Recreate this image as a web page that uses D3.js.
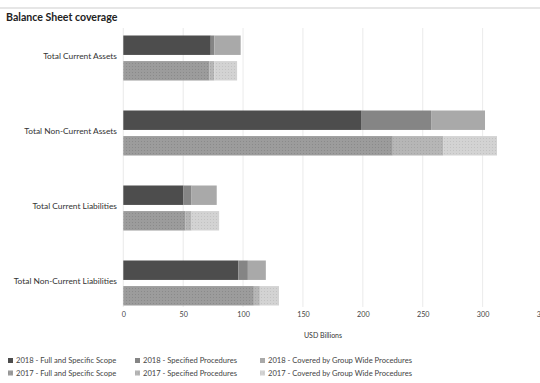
<!DOCTYPE html>
<html>
<head>
<meta charset="utf-8">
<script src="https://cdn.jsdelivr.net/npm/d3@7"></script>
<style>
  body { margin: 0; background: #fff; }
  svg { display: block; font-family: Lato, "Open Sans", sans-serif; }
</style>
</head>
<body>
<svg id="chart" width="540" height="383"></svg>
<script>
// data (USD billions)
const categories = ["Total Current Assets", "Total Non-Current Assets", "Total Current Liabilities", "Total Non-Current Liabilities"];
const years = ["2018", "2017"];
const parts = ["Full and Specific Scope", "Specified Procedures", "Covered by Group Wide Procedures"];

const full2018 = [73, 199, 50, 96];
const spec2018 = [3, 58, 7, 8];
const group2018 = [22, 45, 21, 15];
const full2017 = [72, 225, 52, 109];
const spec2017 = [4, 42, 5, 5];
const group2017 = [19, 45, 23, 16];

const xTicks = [0, 50, 100, 150, 200, 250, 300, 350];

const series = {
    "2018": [full2018, spec2018, group2018],
    "2017": [full2017, spec2017, group2017]
};

const fills = {
    "2018": ["#4d4d4d", "#858585", "#a9a9a9"],
    "2017": ["url(#dot0)", "url(#dot1)", "url(#dot2)"]
};
const dotBase = ["#9c9c9c", "#b6b6b6", "#d3d3d3"];
const dotInk = ["#8a8a8a", "#a6a6a6", "#c2c2c2"];

const svg = d3.select("#chart");

// dotted patterns for the 2017 bars
const defs = svg.append("defs");
dotBase.forEach((c, i) => {
    const p = defs.append("pattern")
        .attr("id", "dot" + i)
        .attr("width", 3).attr("height", 3)
        .attr("patternUnits", "userSpaceOnUse");
    p.append("rect").attr("width", 3).attr("height", 3).attr("fill", c);
    p.append("rect").attr("width", 1).attr("height", 1).attr("fill", dotInk[i]);
})

// top rule + title
svg.append("line")
    .attr("x1", 0).attr("x2", 540)
    .attr("y1", 8).attr("y2", 8)
    .attr("stroke", "#dedede").attr("stroke-width", 1.5);
svg.append("text")
    .attr("x", 6).attr("y", 20.5)
    .attr("font-size", 10.6).attr("font-weight", "bold")
    .attr("fill", "#222")
    .text("Balance Sheet coverage");

const x = d3.scaleLinear().domain([0, 350]).range([123.3, 542.5]);
const y = d3.scaleBand().domain(categories)
    .range([35.5, 305.5])
    .paddingInner(0.4)
    .paddingOuter(0);
const yy = d3.scaleBand().domain(years)
    .range([0, y.bandwidth()])
    .paddingInner(0.24);

// gridlines
svg.append("g")
    .selectAll("line")
    .data(xTicks)
    .join("line")
    .attr("x1", d => x(d)).attr("x2", d => x(d))
    .attr("y1", 28).attr("y2", 307)
    .attr("stroke", "#e4e4e4").attr("stroke-width", 0.8);

// x axis
const axis = d3.axisBottom(x).tickValues(xTicks).tickSize(0).tickPadding(5);
const gx = svg.append("g")
    .attr("transform", "translate(0,307)")
    .call(axis);
gx.select(".domain").remove();
gx.selectAll("text")
    .attr("font-size", 7.2).attr("fill", "#444")
    .attr("font-family", "Lato, sans-serif");

svg.append("text")
    .attr("x", 323).attr("y", 338)
    .attr("text-anchor", "middle")
    .attr("font-size", 7).attr("fill", "#333")
    .text("USD Billions");

// category labels
svg.append("g")
    .selectAll("text")
    .data(categories)
    .join("text")
    .attr("x", 117)
    .attr("y", d => y(d) + y.bandwidth() / 2)
    .attr("dy", "0.1em")
    .attr("text-anchor", "end")
    .attr("font-size", 8.4).attr("fill", "#333")
    .text(d => d);

// stacked bars
const rows = [];
categories.forEach((c, ci) => {
    years.forEach(yr => {
        let acc = 0;
        series[yr].forEach((arr, pi) => {
            rows.push({ cat: c, year: yr, part: pi, x0: acc, x1: acc + arr[ci] });
            acc += arr[ci];
        })
    })
})

svg.append("g")
    .selectAll("rect")
    .data(rows)
    .join("rect")
    .attr("x", d => x(d.x0))
    .attr("width", d => x(d.x1) - x(d.x0))
    .attr("y", d => y(d.cat) + yy(d.year))
    .attr("height", yy.bandwidth())
    .attr("fill", d => fills[d.year][d.part]);

// legend
const legendItems = [];
years.forEach((yr, ri) => {
    parts.forEach((p, pi) => {
        legendItems.push({ label: `${yr} - ${p}`, fill: fills[yr][pi], row: ri, col: pi });
    })
})
const colX = [8, 135, 260];
const lg = svg.append("g")
    .selectAll("g")
    .data(legendItems)
    .join("g")
    .attr("transform", d => `translate(${colX[d.col]},${363 + d.row * 12.5})`);
lg.append("rect")
    .attr("x", 0).attr("y", -5)
    .attr("width", 5).attr("height", 5)
    .attr("fill", d => d.fill);
lg.append("text")
    .attr("x", 8).attr("y", 0)
    .attr("font-size", 7.6).attr("fill", "#444")
    .text(d => d.label);
</script>
</body>
</html>
